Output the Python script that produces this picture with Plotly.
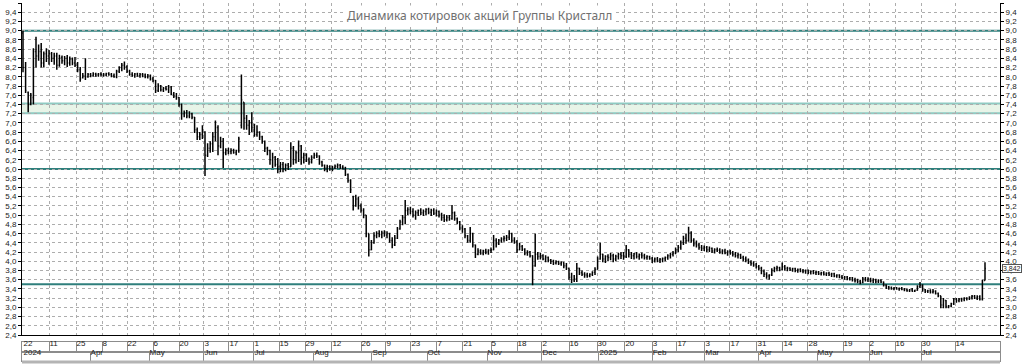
import plotly.graph_objects as go

# ---- OHLC data (one bar per trading day) ----
opens = [
 8.95,8.20,7.66,7.40,7.55,8.55,8.45,8.55,8.30,8.50,
 8.45,8.50,8.40,8.45,8.25,8.42,8.35,8.40,8.30,8.38,
 8.30,8.25,8.15,7.98,8.02,8.00,8.05,8.02,8.06,8.04,
 8.06,8.05,8.04,8.07,8.05,8.02,8.00,8.12,8.20,8.25,
 8.22,8.12,8.05,8.03,8.06,8.02,8.05,8.04,8.00,8.03,
 7.95,7.92,7.70,7.80,7.72,7.75,7.73,7.78,7.62,7.58,
 7.55,7.40,7.20,7.22,7.15,7.20,7.12,6.85,6.70,6.75,
 6.80,6.30,6.45,6.55,6.70,6.90,6.50,6.60,6.35,6.40,
 6.38,6.40,6.36,6.40,6.95,7.45,7.10,6.95,7.00,6.90,
 6.75,6.80,6.70,6.60,6.45,6.40,6.20,6.25,6.10,6.05,
 6.10,6.00,6.08,6.05,6.45,6.20,6.35,6.50,6.25,6.30,
 6.20,6.15,6.25,6.30,6.28,6.15,6.08,6.02,6.05,6.00,
 6.03,6.06,6.08,6.04,6.02,5.88,5.75,5.40,5.20,5.35,
 5.20,5.10,5.00,4.60,4.25,4.40,4.55,4.60,4.58,4.62,
 4.57,4.60,4.45,4.35,4.50,4.70,4.85,4.95,5.10,5.12,
 5.08,5.00,5.05,5.10,5.05,5.08,5.12,5.06,5.10,5.04,
 5.08,5.00,4.95,4.90,4.95,4.92,5.05,4.92,4.85,4.72,
 4.70,4.55,4.45,4.60,4.35,4.15,4.22,4.18,4.22,4.20,
 4.24,4.25,4.45,4.38,4.45,4.48,4.50,4.52,4.60,4.45,
 4.42,4.25,4.32,4.26,4.18,4.20,4.12,3.90,4.15,4.10,
 4.12,4.05,4.08,4.02,4.00,3.96,3.99,3.95,3.97,3.90,
 3.85,3.65,3.60,3.62,3.85,3.75,3.72,3.70,3.68,3.72,
 3.76,3.82,4.05,4.15,4.05,4.10,4.08,4.12,4.05,4.10,
 4.15,4.12,4.10,4.25,4.15,4.12,4.16,4.10,4.14,4.12,
 4.08,4.10,4.06,4.02,4.05,4.02,4.04,4.06,4.08,4.12,
 4.15,4.18,4.25,4.30,4.40,4.50,4.45,4.62,4.45,4.38,
 4.35,4.30,4.28,4.30,4.25,4.28,4.22,4.25,4.24,4.20,
 4.22,4.18,4.20,4.17,4.15,4.12,4.14,4.08,4.05,4.02,
 3.98,3.95,3.92,3.88,3.85,3.78,3.72,3.68,3.70,3.80,
 3.84,3.86,3.82,3.88,3.84,3.85,3.82,3.84,3.80,3.82,
 3.79,3.78,3.80,3.76,3.78,3.75,3.76,3.73,3.75,3.72,
 3.74,3.71,3.73,3.68,3.70,3.66,3.64,3.66,3.62,3.64,
 3.60,3.58,3.56,3.54,3.62,3.60,3.62,3.58,3.60,3.56,
 3.58,3.55,3.48,3.44,3.42,3.40,3.42,3.40,3.41,3.39,
 3.38,3.36,3.38,3.35,3.37,3.45,3.48,3.38,3.35,3.36,
 3.33,3.35,3.30,3.25,3.05,3.15,3.02,3.03,3.08,3.18,
 3.15,3.17,3.18,3.20,3.19,3.22,3.24,3.20,3.23,3.18,3.58]

highs = [
 9.00,8.32,7.68,7.65,8.62,8.87,8.70,8.73,8.55,8.62,
 8.58,8.54,8.52,8.52,8.48,8.46,8.45,8.47,8.44,8.42,
 8.43,8.32,8.21,8.08,8.40,8.08,8.08,8.10,8.09,8.08,
 8.10,8.08,8.09,8.10,8.08,8.07,8.15,8.23,8.30,8.33,
 8.25,8.15,8.10,8.08,8.09,8.08,8.08,8.07,8.06,8.05,
 8.00,7.93,7.86,7.82,7.78,7.80,7.82,7.80,7.67,7.65,
 7.56,7.42,7.27,7.28,7.25,7.22,7.13,6.90,6.80,6.95,
 6.82,6.56,6.60,6.80,7.05,6.95,6.70,6.67,6.45,6.46,
 6.45,6.44,6.42,6.70,8.05,7.45,7.17,7.06,7.23,6.98,
 6.95,6.82,6.72,6.62,6.48,6.42,6.35,6.28,6.24,6.15,
 6.15,6.12,6.13,6.58,6.50,6.40,6.62,6.52,6.35,6.34,
 6.25,6.30,6.35,6.36,6.30,6.18,6.10,6.09,6.08,6.07,
 6.10,6.12,6.11,6.08,6.05,5.90,5.78,5.42,5.44,5.40,
 5.25,5.15,5.00,4.60,4.46,4.63,4.65,4.67,4.66,4.67,
 4.65,4.62,4.52,4.57,4.74,4.90,5.00,5.33,5.17,5.18,
 5.15,5.10,5.12,5.15,5.12,5.15,5.16,5.14,5.15,5.12,
 5.10,5.05,5.02,5.00,5.00,5.22,5.08,4.95,4.87,4.78,
 4.72,4.57,4.74,4.62,4.36,4.28,4.26,4.25,4.27,4.26,
 4.30,4.57,4.50,4.48,4.52,4.55,4.57,4.67,4.62,4.52,
 4.46,4.40,4.35,4.28,4.24,4.22,4.13,4.60,4.20,4.18,
 4.15,4.13,4.10,4.05,4.03,4.02,4.01,4.00,3.98,3.96,
 3.85,3.75,3.70,3.96,3.86,3.80,3.76,3.75,3.74,3.78,
 3.87,4.10,4.40,4.16,4.13,4.15,4.18,4.16,4.14,4.18,
 4.20,4.20,4.35,4.26,4.20,4.18,4.20,4.17,4.19,4.16,
 4.13,4.12,4.09,4.08,4.09,4.07,4.08,4.10,4.15,4.18,
 4.22,4.30,4.35,4.45,4.55,4.60,4.75,4.65,4.50,4.45,
 4.40,4.35,4.34,4.33,4.32,4.30,4.28,4.30,4.28,4.26,
 4.27,4.24,4.25,4.22,4.20,4.18,4.16,4.12,4.10,4.06,
 4.02,4.00,3.96,3.92,3.88,3.82,3.76,3.72,3.85,3.88,
 3.90,3.88,3.97,3.92,3.88,3.87,3.86,3.86,3.84,3.85,
 3.83,3.82,3.82,3.80,3.81,3.79,3.79,3.77,3.78,3.76,
 3.77,3.75,3.75,3.72,3.72,3.70,3.68,3.68,3.66,3.66,
 3.64,3.62,3.60,3.66,3.66,3.65,3.64,3.63,3.62,3.61,
 3.61,3.56,3.50,3.46,3.45,3.44,3.44,3.43,3.44,3.42,
 3.41,3.40,3.42,3.38,3.48,3.55,3.50,3.40,3.38,3.39,
 3.40,3.37,3.32,3.25,3.20,3.16,3.05,3.10,3.20,3.20,
 3.20,3.21,3.22,3.22,3.24,3.27,3.27,3.26,3.26,3.60,3.98]

lows = [
 8.10,7.65,7.23,7.38,7.40,8.20,8.35,8.20,8.20,8.32,
 8.26,8.32,8.26,8.15,8.22,8.28,8.25,8.21,8.24,8.25,
 8.21,8.10,7.89,7.96,7.93,7.98,7.99,8.00,8.00,8.00,
 8.01,8.00,8.01,8.02,7.99,7.98,7.97,8.08,8.12,8.15,
 8.08,8.02,8.00,7.98,8.00,7.98,7.99,7.97,7.96,7.92,
 7.88,7.65,7.67,7.68,7.67,7.70,7.65,7.60,7.54,7.50,
 7.35,7.07,7.12,7.10,7.10,7.08,6.78,6.63,6.63,6.65,
 5.85,6.26,6.35,6.37,6.60,6.30,6.45,6.02,6.30,6.32,
 6.32,6.33,6.30,6.35,6.88,6.85,6.85,6.74,6.80,6.70,
 6.70,6.63,6.55,6.37,6.30,6.09,6.02,6.05,5.91,5.93,
 5.93,5.95,5.98,6.05,6.09,6.12,6.15,6.09,6.12,6.15,
 6.09,6.12,6.22,6.24,6.09,6.05,5.95,5.93,5.96,5.95,
 6.00,6.01,6.00,5.99,5.85,5.70,5.48,5.10,5.18,5.12,
 5.05,4.93,4.52,4.10,4.24,4.38,4.50,4.52,4.50,4.53,
 4.50,4.40,4.28,4.33,4.48,4.68,4.78,4.80,5.00,5.02,
 4.95,4.90,4.98,5.00,4.98,5.00,5.02,4.98,5.00,4.97,
 4.95,4.88,4.85,4.86,4.88,4.90,4.88,4.80,4.67,4.62,
 4.50,4.40,4.40,4.30,4.07,4.13,4.14,4.13,4.15,4.14,
 4.18,4.24,4.30,4.35,4.40,4.42,4.44,4.46,4.40,4.38,
 4.18,4.24,4.22,4.13,4.12,4.08,3.48,3.88,4.03,4.04,
 4.02,3.98,3.98,3.94,3.92,3.93,3.92,3.90,3.85,3.81,
 3.60,3.53,3.55,3.55,3.70,3.68,3.64,3.64,3.65,3.68,
 3.70,3.82,4.03,3.98,3.96,4.00,4.02,3.98,4.00,4.04,
 4.05,4.03,4.07,4.08,4.05,4.04,4.06,4.03,4.06,4.04,
 4.03,4.03,3.96,3.97,3.98,3.96,3.98,4.00,4.03,4.06,
 4.10,4.15,4.20,4.25,4.35,4.38,4.42,4.40,4.32,4.30,
 4.25,4.22,4.22,4.20,4.20,4.18,4.17,4.20,4.16,4.15,
 4.15,4.12,4.14,4.10,4.08,4.06,4.05,4.00,3.98,3.94,
 3.90,3.88,3.84,3.80,3.72,3.66,3.62,3.60,3.68,3.76,
 3.78,3.78,3.80,3.80,3.78,3.79,3.77,3.76,3.75,3.76,
 3.74,3.73,3.72,3.71,3.72,3.70,3.70,3.69,3.69,3.68,
 3.68,3.66,3.65,3.64,3.63,3.61,3.60,3.59,3.58,3.56,
 3.54,3.52,3.50,3.52,3.56,3.55,3.54,3.53,3.52,3.53,
 3.53,3.45,3.40,3.38,3.38,3.37,3.38,3.36,3.37,3.35,
 3.34,3.33,3.34,3.33,3.36,3.42,3.34,3.31,3.31,3.30,
 3.30,3.28,3.22,2.98,2.98,2.98,2.98,3.00,3.05,3.10,
 3.11,3.12,3.13,3.15,3.16,3.17,3.18,3.16,3.15,3.15,3.58]

closes = [
 8.20,7.70,7.40,7.60,8.55,8.45,8.55,8.30,8.50,8.45,
 8.50,8.40,8.45,8.25,8.42,8.35,8.40,8.30,8.38,8.30,
 8.25,8.15,7.95,8.02,8.00,8.05,8.02,8.06,8.04,8.06,
 8.05,8.04,8.07,8.05,8.02,8.00,8.12,8.20,8.25,8.22,
 8.12,8.05,8.03,8.06,8.02,8.05,8.04,8.00,8.03,7.95,
 7.92,7.70,7.80,7.72,7.75,7.73,7.78,7.62,7.58,7.55,
 7.40,7.20,7.22,7.15,7.20,7.12,6.85,6.70,6.75,6.80,
 6.30,6.45,6.55,6.70,6.90,6.50,6.60,6.35,6.40,6.38,
 6.40,6.36,6.40,6.65,7.50,7.10,6.95,7.00,6.90,6.75,
 6.80,6.70,6.60,6.45,6.40,6.20,6.25,6.10,6.05,6.10,
 6.00,6.08,6.05,6.45,6.20,6.35,6.50,6.25,6.30,6.20,
 6.15,6.25,6.30,6.28,6.15,6.08,6.02,6.05,6.00,6.03,
 6.06,6.08,6.04,6.02,5.88,5.75,5.55,5.20,5.35,5.20,
 5.10,5.00,4.60,4.25,4.40,4.55,4.60,4.58,4.62,4.57,
 4.60,4.45,4.35,4.50,4.70,4.85,4.95,5.10,5.12,5.08,
 5.00,5.05,5.10,5.05,5.08,5.12,5.06,5.10,5.04,5.08,
 5.00,4.95,4.90,4.95,4.92,5.05,4.92,4.85,4.72,4.70,
 4.55,4.45,4.60,4.35,4.15,4.22,4.18,4.22,4.20,4.24,
 4.25,4.45,4.38,4.45,4.48,4.50,4.52,4.60,4.45,4.42,
 4.25,4.32,4.26,4.18,4.20,4.12,3.90,4.15,4.10,4.12,
 4.05,4.08,4.02,4.00,3.96,3.99,3.95,3.97,3.90,3.85,
 3.65,3.60,3.62,3.85,3.75,3.72,3.70,3.68,3.72,3.76,
 3.82,4.05,4.15,4.05,4.10,4.08,4.12,4.05,4.10,4.15,
 4.12,4.10,4.25,4.15,4.12,4.16,4.10,4.14,4.12,4.08,
 4.10,4.06,4.02,4.05,4.02,4.04,4.06,4.08,4.12,4.15,
 4.18,4.25,4.30,4.40,4.50,4.45,4.62,4.45,4.38,4.35,
 4.30,4.28,4.30,4.25,4.28,4.22,4.25,4.24,4.20,4.22,
 4.18,4.20,4.17,4.15,4.12,4.14,4.08,4.05,4.02,3.98,
 3.95,3.92,3.88,3.85,3.78,3.72,3.68,3.70,3.80,3.84,
 3.86,3.82,3.88,3.84,3.85,3.82,3.84,3.80,3.82,3.79,
 3.78,3.80,3.76,3.78,3.75,3.76,3.73,3.75,3.72,3.74,
 3.71,3.73,3.68,3.70,3.66,3.64,3.66,3.62,3.64,3.60,
 3.58,3.56,3.54,3.62,3.60,3.62,3.58,3.60,3.56,3.58,
 3.55,3.48,3.44,3.42,3.40,3.42,3.40,3.41,3.39,3.38,
 3.36,3.38,3.35,3.37,3.45,3.48,3.38,3.35,3.36,3.33,
 3.35,3.30,3.25,3.05,3.15,3.02,3.03,3.08,3.18,3.15,
 3.17,3.18,3.20,3.19,3.22,3.24,3.20,3.23,3.18,3.58,3.842]

# ---- axis labels (bar-index positions of the date strip) ----
day_tick_pos = [0, 10, 20.4, 30.4, 40, 50, 60, 69.6, 79.2, 88.8, 98.5, 108.5,
                118.8, 130, 139.6, 149.2, 159.2, 169.2, 180, 190, 199.6, 210,
                220.8, 231.5, 242, 251.5, 262.3, 271.9, 282.3, 292.3, 301.9,
                315.4, 325.4, 335.4, 345.4, 358.5]
day_tick_text = ["22", "11", "25", "8", "22", "6", "20", "3", "17", "1", "15", "29",
                 "12", "26", "9", "23", "7", "21", "5", "18", "2", "16",
                 "30", "20", "3", "17", "3", "17", "31", "14", "28",
                 "19", "2", "16", "30", "14"]
month_tick_pos = [0, 25.8, 48.5, 69.6, 88.8, 111.9, 134.2, 155.4, 178.5, 199.6,
                  221.5, 242, 262.3, 283, 305.4, 325.4, 345.4]
month_tick_text = ["2024", "Apr", "May", "Jun", "Jul", "Aug", "Sep", "Oct", "Nov",
                   "Dec", "2025", "Feb", "Mar", "Apr", "May", "Jun", "Jul"]

levels = [9.0, 6.0, 3.5]
band = [7.21, 7.42]
title_text = "Динамика котировок акций Группы Кристалл"

x_idx = list(range(len(closes)))
XR = [-0.385, 375.77]
YR = [2.4, 9.6]
GRID = "#adadad"

fig = go.Figure()
fig.add_trace(go.Ohlc(
    x=x_idx, open=opens, high=highs, low=lows, close=closes,
    increasing=dict(line=dict(color="black", width=1.5)),
    decreasing=dict(line=dict(color="black", width=1.5)),
    tickwidth=0.35, hoverinfo="skip", xaxis="x", yaxis="y"))
fig.add_trace(go.Scatter(x=[None], y=[None], xaxis="x", yaxis="y2", showlegend=False))
fig.add_trace(go.Scatter(x=[None], y=[None], xaxis="x3", yaxis="y3", showlegend=False))
fig.add_trace(go.Scatter(x=[None], y=[None], xaxis="x4", yaxis="y4", showlegend=False))

shapes = []
shapes.append(dict(type="rect", xref="paper", x0=0, x1=1, yref="y", y0=band[0], y1=band[1],
                   fillcolor="#e8f4e8", line=dict(width=0), layer="below"))
for b in band:
    shapes.append(dict(type="line", xref="paper", x0=0, x1=1, yref="y", y0=b, y1=b,
                       line=dict(color="#8fcac2", width=2), layer="between"))
for lv in levels:
    shapes.append(dict(type="line", xref="paper", x0=0, x1=1, yref="y", y0=lv, y1=lv,
                       line=dict(color="#2f7f7c", width=2), layer="between"))
shapes.append(dict(type="line", xref="paper", x0=0, x1=1, yref="paper", y0=0.0, y1=0.0,
                   line=dict(color="#b4b4b4", width=3)))

axis_font = dict(family="Liberation Sans, Arial, sans-serif", size=8, color="#222222")

fig.update_layout(
    width=1024, height=364,
    margin=dict(l=22, r=24, t=3, b=2, autoexpand=False),
    paper_bgcolor="white", plot_bgcolor="white",
    separators=", ", showlegend=False,
    font=axis_font,
    shapes=shapes,
    xaxis=dict(domain=[0, 1], range=XR, anchor="y", tickvals=day_tick_pos,
               showticklabels=False, ticks="", showgrid=True, gridcolor=GRID,
               griddash="dot", gridwidth=1, showline=True, linecolor="black",
               linewidth=1, zeroline=False, rangeslider=dict(visible=False),
               automargin=False),
    yaxis=dict(domain=[0.0752, 1], range=YR, tick0=2.4, dtick=0.2, tickformat=".1f",
               ticks="outside", ticklen=3, tickcolor="black", showline=True,
               linecolor="black", showgrid=True, gridcolor=GRID, griddash="dot",
               zeroline=False, tickfont=axis_font, automargin=False),
    yaxis2=dict(overlaying="y", side="right", anchor="x", range=YR, tick0=2.4, dtick=0.2,
                tickformat=".1f", ticks="outside", ticklen=3, tickcolor="black",
                showline=True, linecolor="black", showgrid=False, zeroline=False,
                tickfont=axis_font, automargin=False),
    xaxis3=dict(domain=[0, 1], range=XR, anchor="y3", tickvals=day_tick_pos,
                ticktext=day_tick_text, ticklabelposition="inside right", ticks="",
                showgrid=True, gridcolor="#8c8c8c", gridwidth=1, showline=True,
                mirror=True, linecolor="#8c8c8c", zeroline=False, tickfont=axis_font,
                automargin=False),
    yaxis3=dict(domain=[0.0279, 0.0557], range=[0, 1], showticklabels=False, ticks="",
                showgrid=False, zeroline=False, showline=True, mirror=True,
                linecolor="#8c8c8c", automargin=False),
    xaxis4=dict(domain=[0, 1], range=XR, anchor="y4", tickvals=month_tick_pos,
                ticktext=month_tick_text, ticklabelposition="inside right", ticks="",
                showgrid=True, gridcolor="#8c8c8c", gridwidth=1, showline=True,
                mirror=True, linecolor="#8c8c8c", zeroline=False, tickfont=axis_font,
                automargin=False),
    yaxis4=dict(domain=[0.0028, 0.0279], range=[0, 1], showticklabels=False, ticks="",
                showgrid=False, zeroline=False, showline=True, mirror=True,
                linecolor="#8c8c8c", automargin=False),
    annotations=[
        dict(text=title_text, xref="paper", yref="paper", x=0.468, y=0.964,
             xanchor="center", yanchor="middle",
             showarrow=False, bgcolor="white", borderpad=1,
             font=dict(family="Noto Sans, sans-serif", size=12, color="#707070")),
        dict(text=f"{closes[-1]:.3f}".replace(".", ","), xref="paper", yref="y",
             x=1, y=closes[-1], xanchor="left", xshift=2, showarrow=False,
             bgcolor="white", bordercolor="#555555", borderwidth=1, borderpad=0,
             font=dict(family="Liberation Sans, Arial, sans-serif", size=7, color="#222")),
    ],
)

fig.write_html("out.html")
